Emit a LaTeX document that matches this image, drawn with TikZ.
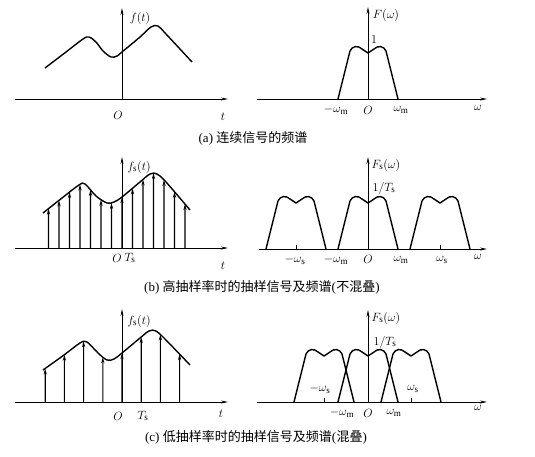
\documentclass[tikz,border=0pt]{standalone}
\usepackage{fontspec}
\setmainfont{Liberation Serif}
\newfontfamily\cjk{Noto Sans CJK SC}
\usetikzlibrary{arrows.meta,intersections}
\begin{document}
\begin{tikzpicture}[x=1pt,y=-1pt,
  axisline/.style={line width=0.9pt,-{Stealth[length=7pt,width=3pt]}},
  sigcurve/.style={line width=1.4pt,line join=round},
  stemline/.style={line width=1.1pt,-{Stealth[length=6pt,width=3.2pt]}},
  tickmark/.style={line width=0.9pt},
  lab/.style={font=\fontsize{13}{15}\selectfont,inner sep=0pt},
  captxt/.style={font=\fontsize{13}{15}\selectfont,inner sep=0pt},
  spec/.pic={\draw[sigcurve] (-30,0) -- (-18,-48) .. controls (-16,-53) and (-10,-54) .. (-6,-50) .. controls (-3,-48) .. (0,-46) .. controls (3,-48) .. (6,-50) .. controls (10,-54) and (16,-53) .. (18,-48) -- (30,0);},
]
\useasboundingbox (0,0) rectangle (535,456);

% ---------- (a) left
\coordinate (a1s) at (15,99); \coordinate (a1e) at (228,99);
\coordinate (a1b) at (122,99); \coordinate (a1t) at (122,8);
\draw[axisline] (a1s) -- (a1e);
\draw[axisline] (a1b) -- (a1t);
\draw[sigcurve] plot[smooth,tension=0.55] coordinates {(45,68) (66,52) (83,39) (89,37) (96,42) (103,51) (111,57) (117,56) (122,52) (140,37) (151,27) (158,26) (166,34) (192,62)};
\node[lab] (fa) at (140,18) {$f(t)$};
\node[lab] (Oa) at (118,115) {$O$};
\node[lab] (ta) at (223,117) {$t$};

% ---------- (a) right
\coordinate (a2s) at (257,99); \coordinate (a2e) at (487,99);
\coordinate (a2b) at (368,99); \coordinate (a2t) at (368,7);
\draw[axisline] (a2s) -- (a2e);
\draw[axisline] (a2b) -- (a2t);
\pic at (368,99) {spec};
\node[lab] (Fa) at (386,15) {$F(\omega)$};
\node[lab] (one) at (374,40) {$1$};
\node[lab] (mwma) at (336,110) {$-\omega_{\mathrm{m}}$};
\node[lab] (O2a) at (368,110) {$O$};
\node[lab] (wma) at (401,110) {$\omega_{\mathrm{m}}$};
\node[lab] (wa) at (478,108) {$\omega$};
\node[captxt] (capa) at (253,138) {(a) {\cjk 连续信号的频谱}};

% ---------- (b) left
\coordinate (b1s) at (15,248); \coordinate (b1e) at (228,248);
\coordinate (b1b) at (122,248); \coordinate (b1t) at (122,157);
\draw[axisline] (b1s) -- (b1e);
\draw[axisline] (b1b) -- (b1t);
\draw[sigcurve,name path=cb] plot[smooth,tension=0.55] coordinates {(43,213) (62,198) (79,185) (85,184) (96,196) (107,203) (114,202) (122,197) (140,182) (150,174) (157,174) (166,182) (190,210)};
\foreach \k in {-7,...,6} {
  \path[name path=vb] ({122+10.5*(\k)},260) -- ({122+10.5*(\k)},140);
  \draw[stemline,name intersections={of=cb and vb}] ({122+10.5*(\k)},248) -- (intersection-1);
}
\node[lab] (fb) at (139,167) {$f_{\mathrm{s}}(t)$};
\node[lab] (Ob) at (117,258) {$O$};
\node[lab] (Tb) at (130,258) {$T_{\mathrm{s}}$};
\node[lab] (tb) at (223,266) {$t$};

% ---------- (b) right
\coordinate (b2s) at (259,249); \coordinate (b2e) at (487,249);
\coordinate (b2b) at (368,249); \coordinate (b2t) at (368,157);
\draw[axisline] (b2s) -- (b2e);
\draw[axisline] (b2b) -- (b2t);
\pic at (296,249) {spec};
\pic at (368,249) {spec};
\pic at (440,249) {spec};
\coordinate (kb1) at (296,249); \coordinate (kb1t) at (296,245);
\coordinate (kb2) at (440,249); \coordinate (kb2t) at (440,245);
\draw[tickmark] (kb1) -- (kb1t);
\draw[tickmark] (kb2) -- (kb2t);
\node[lab] (Fb) at (386,165) {$F_{\mathrm{s}}(\omega)$};
\node[lab] (hb) at (384,188) {$1/T_{\mathrm{s}}$};
\node[lab] (mwsb) at (295,260) {$-\omega_{\mathrm{s}}$};
\node[lab] (mwmb) at (336,260) {$-\omega_{\mathrm{m}}$};
\node[lab] (O2b) at (368,259) {$O$};
\node[lab] (wmb) at (401,260) {$\omega_{\mathrm{m}}$};
\node[lab] (wsb) at (442,260) {$\omega_{\mathrm{s}}$};
\node[lab] (wb) at (478,257) {$\omega$};
\node[captxt] (capb) at (262,287) {(b) {\cjk 高抽样率时的抽样信号及频谱}(\kern0.5pt{\cjk 不混叠})};

% ---------- (c) left
\coordinate (c1s) at (15,402); \coordinate (c1e) at (228,402);
\coordinate (c1b) at (122,402); \coordinate (c1t) at (122,309);
\draw[axisline] (c1s) -- (c1e);
\draw[axisline] (c1b) -- (c1t);
\draw[sigcurve,name path=cc] plot[smooth,tension=0.55] coordinates {(43,370) (64,355) (80,343) (87,342) (98,353) (107,360) (114,359) (122,353) (140,338) (149,331) (156,331) (165,339) (190,365)};
\foreach \k in {-4,...,3} {
  \path[name path=vc] ({122+19.2*(\k)},412) -- ({122+19.2*(\k)},300);
  \draw[stemline,name intersections={of=cc and vc}] ({122+19.2*(\k)},402) -- (intersection-1);
}
\node[lab] (fc) at (139,321) {$f_{\mathrm{s}}(t)$};
\node[lab] (Oc) at (118,416) {$O$};
\node[lab] (Tc) at (143,416) {$T_{\mathrm{s}}$};
\node[lab] (tc) at (221,414) {$t$};

% ---------- (c) right
\coordinate (c2s) at (257,402); \coordinate (c2e) at (487,402);
\coordinate (c2b) at (368,402); \coordinate (c2t) at (368,310);
\draw[axisline] (c2s) -- (c2e);
\draw[axisline] (c2b) -- (c2t);
\pic at (324,402) {spec};
\pic at (368,402) {spec};
\pic at (411,402) {spec};
\coordinate (kc1) at (324,402); \coordinate (kc1t) at (324,398);
\coordinate (kc2) at (411,402); \coordinate (kc2t) at (411,398);
\draw[tickmark] (kc1) -- (kc1t);
\draw[tickmark] (kc2) -- (kc2t);
\node[lab] (Fc) at (386,318) {$F_{\mathrm{s}}(\omega)$};
\node[lab] (hc) at (385,342) {$1/T_{\mathrm{s}}$};
\node[lab] (mwsc) at (320,389) {$-\omega_{\mathrm{s}}$};
\node[lab] (wsc) at (413,389) {$\omega_{\mathrm{s}}$};
\node[lab] (mwmc) at (342,413) {$-\omega_{\mathrm{m}}$};
\node[lab] (O2c) at (368,413) {$O$};
\node[lab] (wmc) at (394,413) {$\omega_{\mathrm{m}}$};
\node[lab] (wc) at (478,408) {$\omega$};
\node[captxt] (capc) at (256,437) {(c) {\cjk 低抽样率时的抽样信号及频谱}(\kern0.5pt{\cjk 混叠})};
\end{tikzpicture}
\end{document}
